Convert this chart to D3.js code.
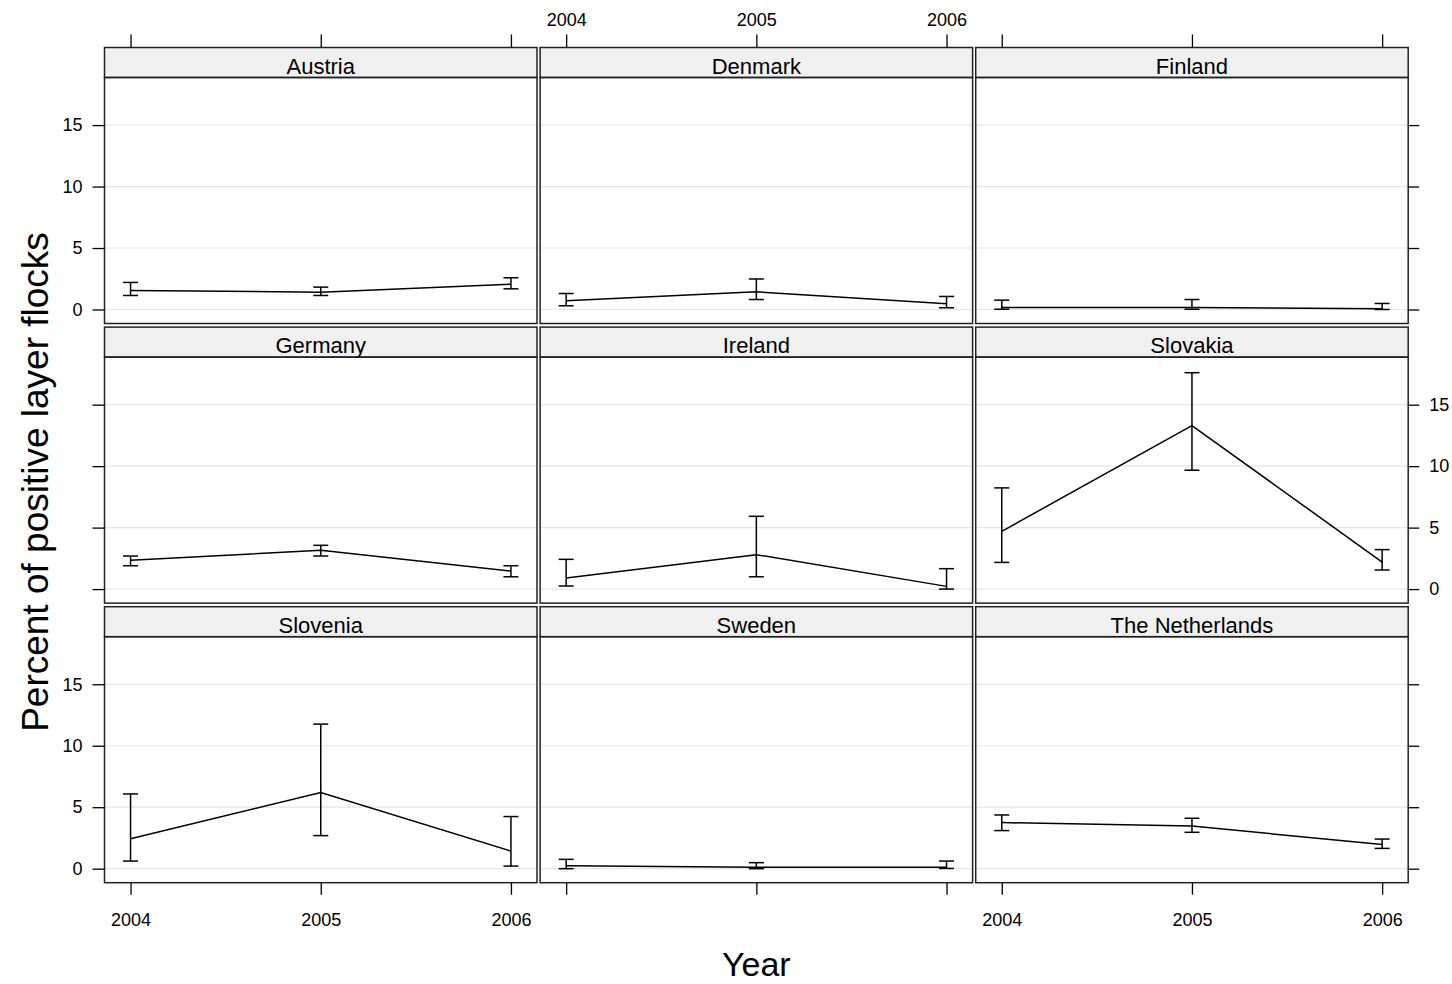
<!DOCTYPE html>
<html><head><meta charset="utf-8">
<script src="https://cdn.jsdelivr.net/npm/d3@7"></script>
<style>body{margin:0;background:#fff}svg{display:block}</style>
</head><body><svg id="chart" width="1452" height="984"></svg>
<script>
const countries = ["Austria","Denmark","Finland","Germany","Ireland","Slovakia","Slovenia","Sweden","The Netherlands"];
const years = [2004, 2005, 2006];
const estimate = [
  [1.55, 1.41, 2.06],
  [0.71, 1.44, 0.46],
  [0.16, 0.16, 0.05],
  [2.34, 3.15, 1.47],
  [0.90, 2.80, 0.22],
  [4.70, 13.30, 2.20],
  [2.44, 6.19, 1.43],
  [0.24, 0.11, 0.11],
  [3.75, 3.47, 1.96]
];
const lowerCI = [
  [1.14, 1.14, 1.68],
  [0.30, 0.81, 0.14],
  [0.02, 0.02, 0.00],
  [1.90, 2.69, 1.00],
  [0.25, 1.00, 0.00],
  [2.17, 9.67, 1.55],
  [0.62, 2.69, 0.21],
  [0.00, 0.00, 0.02],
  [3.10, 2.96, 1.65]
];
const upperCI = [
  [2.20, 1.82, 2.58],
  [1.30, 2.48, 1.06],
  [0.76, 0.81, 0.49],
  [2.69, 3.56, 1.90],
  [2.42, 5.92, 1.66],
  [8.23, 17.60, 3.21],
  [6.08, 11.76, 4.24],
  [0.76, 0.49, 0.62],
  [4.37, 4.10, 2.41]
];
const yTicks = [0, 5, 10, 15];
const xTicks = [2004, 2005, 2006];
const yTitle = "Percent of positive layer flocks";
const xTitle = "Year";

const FONT = "'Liberation Sans', Arial, Helvetica, sans-serif";
const svg = d3.select("#chart");
const left0 = 104.5, pitchX = 435.6, panelW = 432.5;
const top0 = 47.5, pitchY = 279.6, stripH = 30, plotH = 246;
const nCol = 3, nRow = 3;
const yDomain = [-1.14, 18.87];
const xDomain = [2003.863, 2006.137];

function geom(r, c) {
  const x0 = left0 + c * pitchX;
  const st = top0 + r * pitchY;
  const pt = st + stripH;
  return {x0, x1: x0 + panelW, st, pt, pb: pt + plotH};
}

countries.forEach((name, i) => {
  const r = Math.floor(i / nCol), c = i % nCol;
  const g = geom(r, c);
  const x = d3.scaleLinear().domain(xDomain).range([g.x0, g.x1]);
  const y = d3.scaleLinear().domain(yDomain).range([g.pb, g.pt]);
  const p = svg.append("g").attr("class", "panel");

  // grid
  p.selectAll("line.grid").data(yTicks).join("line")
    .attr("class", "grid")
    .attr("x1", g.x0).attr("x2", g.x1)
    .attr("y1", d => y(d)).attr("y2", d => y(d))
    .attr("stroke", "#e6e6e6").attr("stroke-width", 1.2);

  // strip
  p.append("rect").attr("x", g.x0).attr("y", g.st).attr("width", panelW).attr("height", stripH)
    .attr("fill", "#f0f0f0").attr("stroke", "#222").attr("stroke-width", 1.5);
  p.append("text").attr("x", (g.x0 + g.x1) / 2).attr("y", g.pt - 4)
    .attr("text-anchor", "middle").attr("font-family", FONT).attr("font-size", 22)
    .attr("fill", "#000").text(name);

  // panel border
  p.append("rect").attr("x", g.x0).attr("y", g.pt).attr("width", panelW).attr("height", plotH)
    .attr("fill", "none").attr("stroke", "#222").attr("stroke-width", 1.5);

  // data line
  const pts = years.map((yr, k) => ({yr, v: estimate[i][k], lo: lowerCI[i][k], hi: upperCI[i][k]}));
  p.append("path").datum(pts)
    .attr("d", d3.line().x(d => x(d.yr)).y(d => y(d.v)))
    .attr("fill", "none").attr("stroke", "#000").attr("stroke-width", 1.5);

  // error bars
  const eb = p.selectAll("g.eb").data(pts).join("g").attr("class", "eb")
    .attr("stroke", "#000").attr("stroke-width", 1.5);
  eb.append("line").attr("x1", d => x(d.yr)).attr("x2", d => x(d.yr))
    .attr("y1", d => y(d.lo)).attr("y2", d => y(d.hi));
  eb.append("line").attr("x1", d => x(d.yr) - 7.5).attr("x2", d => x(d.yr) + 7.5)
    .attr("y1", d => y(d.lo)).attr("y2", d => y(d.lo));
  eb.append("line").attr("x1", d => x(d.yr) - 7.5).attr("x2", d => x(d.yr) + 7.5)
    .attr("y1", d => y(d.hi)).attr("y2", d => y(d.hi));

  function styleAxis(sel) {
    sel.select(".domain").remove();
    sel.selectAll(".tick line").attr("stroke", "#000").attr("stroke-width", 1.3);
    sel.selectAll(".tick text").attr("font-family", FONT).attr("font-size", 18).attr("fill", "#000");
  }

  // left axis (col 0)
  if (c === 0) {
    const lab = (r !== 1);
    const ax = d3.axisLeft(y).tickValues(yTicks).tickSize(12).tickPadding(10)
      .tickFormat(lab ? d3.format("d") : () => "");
    svg.append("g").attr("transform", `translate(${g.x0},0)`).call(ax).call(styleAxis);
  }
  // right axis (col 2)
  if (c === nCol - 1) {
    const lab = (r === 1);
    const ax = d3.axisRight(y).tickValues(yTicks).tickSize(11).tickPadding(10)
      .tickFormat(lab ? d3.format("d") : () => "");
    svg.append("g").attr("transform", `translate(${g.x1},0)`).call(ax).call(styleAxis);
  }
  // top axis (row 0)
  if (r === 0) {
    const lab = (c === 1);
    const ax = d3.axisTop(x).tickValues(xTicks).tickSize(13).tickPadding(9)
      .tickFormat(lab ? d3.format("d") : () => "");
    svg.append("g").attr("transform", `translate(0,${g.st})`).call(ax).call(styleAxis);
  }
  // bottom axis (row 2)
  if (r === nRow - 1) {
    const lab = (c !== 1);
    const ax = d3.axisBottom(x).tickValues(xTicks).tickSize(12).tickPadding(19)
      .tickFormat(lab ? d3.format("d") : () => "");
    svg.append("g").attr("transform", `translate(0,${g.pb})`).call(ax).call(styleAxis);
  }
});

// axis titles
svg.append("text").attr("transform", "translate(48,482) rotate(-90)")
  .attr("text-anchor", "middle").attr("font-family", FONT).attr("font-size", 37)
  .attr("fill", "#000").text(yTitle);
svg.append("text").attr("x", (geom(2,1).x0 + geom(2,1).x1) / 2).attr("y", 976)
  .attr("text-anchor", "middle").attr("font-family", FONT).attr("font-size", 34)
  .attr("fill", "#000").text(xTitle);
</script></body></html>
